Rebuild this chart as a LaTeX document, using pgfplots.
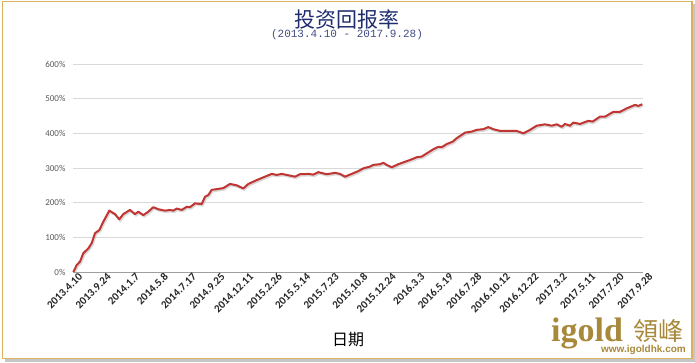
\documentclass[border=0pt]{standalone}
\usepackage{pgfplots}
\pgfplotsset{compat=1.18}
\usepackage{fontspec}
\setmainfont{Carlito}
\newfontfamily\cjk{Noto Sans CJK SC}
\newfontfamily\cjktc{Noto Sans CJK TC}
\newfontfamily\monof{Liberation Mono}
\newfontfamily\logoserif{Liberation Serif}
\newfontfamily\logosans{Liberation Sans}
\definecolor{navy}{RGB}{31,45,110}
\definecolor{framegold}{RGB}{218,178,92}
\definecolor{logogold}{RGB}{168,136,58}
\definecolor{linered}{RGB}{192,52,50}
\definecolor{gridgray}{RGB}{217,217,217}
\definecolor{ticktext}{RGB}{89,89,89}
\begin{document}
\begin{tikzpicture}
\useasboundingbox (0pt,0pt) rectangle (695pt,362pt);
% shadow and frame
\fill[gray!45] (5pt,0.5pt) rectangle (695pt,3.5pt);
\fill[gray!45] (692.5pt,0.5pt) rectangle (695pt,358pt);
\draw[framegold, line width=1.6pt] (2.5pt,3.5pt) rectangle (692pt,360.5pt);
% titles
\node[font=\cjk\fontsize{21}{24}\selectfont, text=navy] at (347pt,343pt) {投资回报率};
\node[font=\monof\fontsize{11}{13}\selectfont, text=navy!85] at (347pt,327pt) {(2013.4.10 - 2017.9.28)};
\node[font=\cjk\fontsize{16}{19}\selectfont] at (348pt,22pt) {日期};
% logo
\node[anchor=base west, inner sep=0, font=\logoserif\bfseries\fontsize{34}{36}\selectfont, text=logogold] at (551pt,21pt) {igold};
\node[anchor=base west, inner sep=0, font=\cjktc\fontsize{25}{28}\selectfont, text=logogold] at (633pt,22pt) {領峰};
\node[anchor=base east, inner sep=0, font=\logosans\bfseries\fontsize{10}{12}\selectfont, text=logogold] at (686pt,10pt) {www.igoldhk.com};
\begin{axis}[
  at={(73pt,90pt)}, anchor=south west,
  scale only axis, width=570pt, height=208pt,
  xmin=0, xmax=570, ymin=0, ymax=600,
  axis x line*=bottom, axis y line*=left,
  x axis line style={draw=gray!75, line width=0.9pt, -},
  y axis line style={draw=none},
  ymajorgrids, grid style={gridgray, line width=0.9pt},
  major tick length=0pt,
  ytick={0,100,...,600},
  yticklabel={\pgfmathprintnumber{\tick}\%},
  /pgf/number format/assume math mode=true,
  yticklabel style={font=\fontsize{9}{10}\selectfont, text=ticktext, xshift=-4pt},
  xtick={0,28.5,57,85.5,114,142.5,171,199.5,228,256.5,285,313.5,342,370.5,399,427.5,456,484.5,513,541.5,570},
  xticklabels={2013.4.10,2013.9.24,2014.1.7,2014.5.8,2014.7.17,2014.9.25,2014.12.11,2015.2.26,2015.5.14,2015.7.23,2015.10.8,2015.12.24,2016.3.3,2016.5.19,2016.7.28,2016.10.12,2016.12.22,2017.3.2,2017.5.11,2017.7.20,2017.9.28},
  xticklabel style={font=\bfseries\fontsize{11}{12}\selectfont, text=black!85, rotate=45, anchor=north east, inner sep=0.5pt, xshift=4pt, yshift=-3pt},
  clip=false,
]
\pgfplotstableread{
x y
0.3 0
3.7 20
7 30
10.3 54
15.3 68
18.7 83
22 112
26.3 121
30.3 145
36.3 177
42 167
46.3 152
50.3 167
57 179
62 167
65.3 174
70.3 164
75.3 174
80.3 187
85.3 181
92 177
97 179
100.3 177
103.7 183
108.7 179
113.7 188
117 187
122 198
128.7 196
132 217
135.3 222
138.7 237
143.7 239
150.3 242
157 254
163.7 250
170.3 241
175.3 254
183.7 265
190.3 273
198.7 283
203.7 280
208.7 283
213.7 280
222 275
227 282
235.3 283
240.3 281
245.3 288
253.7 282
262 286
267 283
272 275
278.7 283
285.3 291
290.3 299
297 304
300.3 309
307 311
310.3 315
313.7 309
318.7 302
325.3 311
332 318
338.7 325
343.7 331
348.7 333
353.7 342
360.3 354
365.3 361
368.7 360
373.7 369
379.7 376
383.7 386
392 402
398.7 405
403.7 410
410.3 412
415.3 418
420.3 412
427 407
443.7 407
450.3 400
457 410
463.7 422
472 426
478.7 422
483.7 426
488.7 419
492 427
497 422
500.3 431
507 427
515.3 436
519.7 434
527 448
532 448
540.3 462
547 462
553.7 472
562 482
565.3 479
569.3 484
}\returns
\addplot[gray!60, opacity=0.5, line width=2pt, no marks, xshift=1pt, yshift=-1.5pt] table {\returns};
\addplot[linered, line width=2pt, no marks, line join=round] table {\returns};
\end{axis}
\end{tikzpicture}
\end{document}
